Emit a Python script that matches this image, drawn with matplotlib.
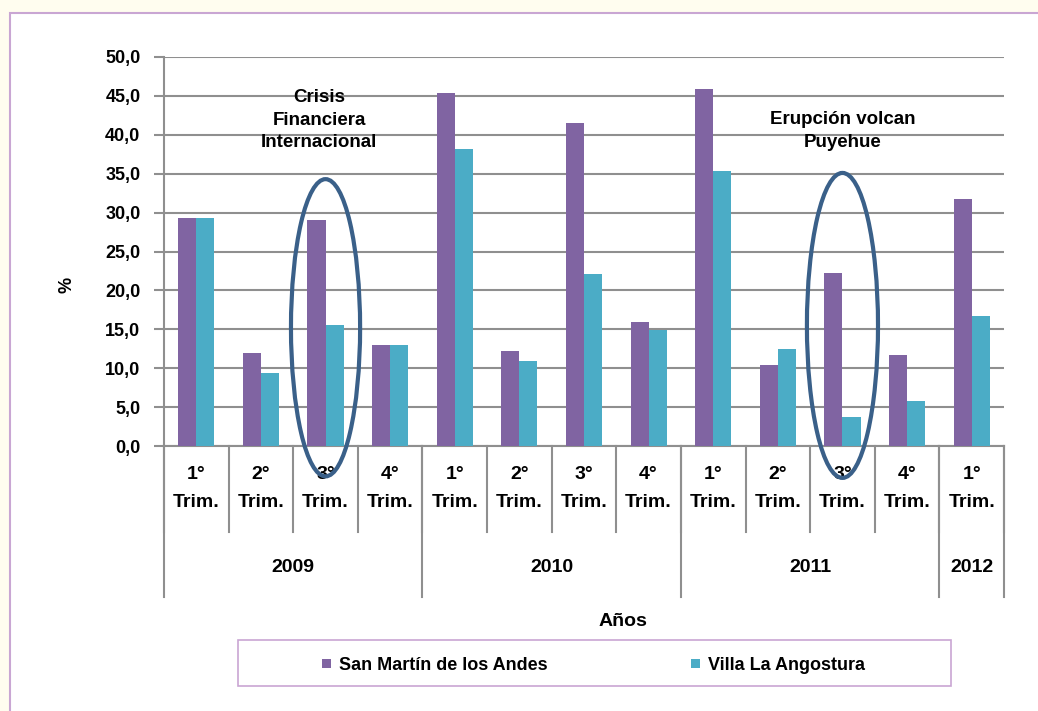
import matplotlib
matplotlib.use("Agg")
import matplotlib.pyplot as plt
from matplotlib.patches import Rectangle, Ellipse
import numpy as np

# Data (% per quarter)
years = ["2009", "2010", "2011", "2012"]
quarters_per_year = [4, 4, 4, 1]
quarter_labels = ["1°", "2°", "3°", "4°", "1°", "2°", "3°", "4°",
                  "1°", "2°", "3°", "4°", "1°"]
san_martin = [29.3, 12.0, 29.1, 13.0, 45.4, 12.2, 41.5, 15.9,
              45.9, 10.4, 22.3, 11.7, 31.7]
villa_angostura = [29.3, 9.4, 15.6, 13.0, 38.2, 10.9, 22.1, 14.9,
                   35.3, 12.5, 3.7, 5.8, 16.7]
series_names = ["San Martín de los Andes", "Villa La Angostura"]

# Style
purple = "#8064A2"
cyan = "#4BACC6"
grid_gray = "#8F8F8F"
frame_purple = "#C9A6D3"
ellipse_blue = "#3A6089"
bar_w = 0.28

plt.rcParams["font.family"] = ["Liberation Sans", "DejaVu Sans"]
plt.rcParams["font.weight"] = "bold"

W, H = 1038, 711
fig = plt.figure(figsize=(W / 100, H / 100), dpi=100)
fig.patch.set_facecolor("#FFFDEF")

# white panel with purple border
fig.patches.append(Rectangle((10 / W, -0.05), 1.1, 1 - 13 / H + 0.05,
                             transform=fig.transFigure, facecolor="white",
                             edgecolor=frame_purple, linewidth=1.5, zorder=-5))

ax = fig.add_axes([164 / W, 1 - 446 / H, (1004 - 164) / W, (446 - 57) / H])
ax.set_facecolor("white")

x = np.arange(len(san_martin))
ax.bar(x - bar_w / 2, san_martin, bar_w, color=purple, label=series_names[0], zorder=3)
ax.bar(x + bar_w / 2, villa_angostura, bar_w, color=cyan, label=series_names[1], zorder=3)

ax.set_xlim(-0.5, len(x) - 0.5)
ax.set_ylim(0, 50)
ax.set_yticks(np.arange(0, 50.1, 5))
ax.set_yticklabels([f"{v:.1f}".replace(".", ",") for v in np.arange(0, 50.1, 5)])
ax.yaxis.grid(True, color=grid_gray, linewidth=1.5, zorder=0)
ax.set_axisbelow(True)
ax.tick_params(axis="y", length=7, width=1.5, color=grid_gray, pad=10, labelsize=13)
ax.tick_params(axis="x", length=0, labelbottom=False)
for s in ["top", "right"]:
    ax.spines[s].set_visible(False)
for s in ["left", "bottom"]:
    ax.spines[s].set_color(grid_gray)
    ax.spines[s].set_linewidth(1.5)

ax.set_ylabel("%", fontsize=13, fontweight="bold")
ax.yaxis.set_label_coords((75 - 164) / 840, (446 - 285) / 389)

# multi-level category axis
xt = ax.get_xaxis_transform()
for i, q in enumerate(quarter_labels):
    ax.text(i, -0.072, q, transform=xt, ha="center", va="center", fontsize=14)
    ax.text(i, -0.144, "Trim.", transform=xt, ha="center", va="center", fontsize=14)
for k in range(len(x) + 1):
    ax.plot([k - 0.5, k - 0.5], [0, -0.221], transform=xt, color=grid_gray,
            linewidth=1.5, clip_on=False)
start = 0
for yr, n in zip(years, quarters_per_year):
    ax.plot([start - 0.5, start - 0.5], [0, -0.388], transform=xt, color=grid_gray,
            linewidth=1.5, clip_on=False)
    ax.text(start + (n - 1) / 2, -0.3136, yr, transform=xt, ha="center",
            va="center", fontsize=14)
    start += n
ax.plot([start - 0.5, start - 0.5], [0, -0.388], transform=xt, color=grid_gray,
        linewidth=1.5, clip_on=False)

fig.text(623 / W, 1 - 621 / H, "Años", ha="center", va="center", fontsize=14)

# annotations
ax.add_patch(Ellipse((2, 15.2), 1.07, 38.2, fill=False, edgecolor=ellipse_blue,
                     linewidth=3, clip_on=False, zorder=5))
ax.add_patch(Ellipse((10, 15.5), 1.1, 39.2, fill=False, edgecolor=ellipse_blue,
                     linewidth=3, clip_on=False, zorder=5))
ax.text(1.9, 41.9, "Crisis\nFinanciera\nInternacional", ha="center", va="center",
        fontsize=13.5, linespacing=1.4, zorder=6)
ax.text(10.0, 40.5, "Erupción volcan\nPuyehue", ha="center", va="center",
        fontsize=13.5, linespacing=1.4, zorder=6)

# legend box
fig.patches.append(Rectangle((238 / W, 1 - 686 / H), (951 - 238) / W, (686 - 640) / H,
                             transform=fig.transFigure, facecolor="white",
                             edgecolor=frame_purple, linewidth=1.2))
for name, color, mx in zip(series_names, [purple, cyan], [322, 691]):
    fig.patches.append(Rectangle((mx / W, 1 - 668 / H), 9 / W, 9 / H,
                                 transform=fig.transFigure, facecolor=color,
                                 edgecolor="none"))
    fig.text((mx + 17) / W, 1 - 670 / H, name, ha="left", va="baseline", fontsize=13)

fig.savefig("out.png", dpi=100, facecolor=fig.get_facecolor())
